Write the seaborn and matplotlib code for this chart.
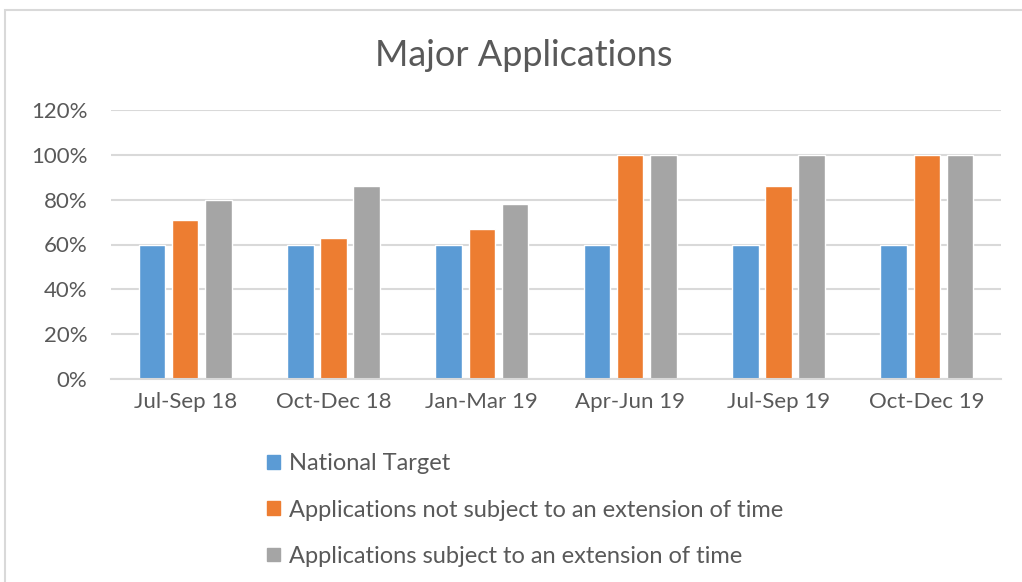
import pandas as pd
import matplotlib.pyplot as plt
import seaborn as sns
from matplotlib.patches import Rectangle
from matplotlib.ticker import PercentFormatter

# Datos del gráfico
trimestres = ["Jul-Sep 18", "Oct-Dec 18", "Jan-Mar 19", "Apr-Jun 19", "Jul-Sep 19", "Oct-Dec 19"]
objetivo_nacional = [60, 60, 60, 60, 60, 60]
sin_extension = [71, 63, 67, 100, 86, 100]
con_extension = [80, 86, 78, 100, 100, 100]
series = ["National Target",
          "Applications not subject to an extension of time",
          "Applications subject to an extension of time"]
colores = ["#5b9bd5", "#ed7d31", "#a5a5a5"]

df = pd.DataFrame({
    "Trimestre": trimestres * 3,
    "Serie": [series[0]] * 6 + [series[1]] * 6 + [series[2]] * 6,
    "Valor": objetivo_nacional + sin_extension + con_extension,
})

sns.set_theme(style="white")
plt.rcParams['font.family'] = ['Lato', 'DejaVu Sans']
texto = "#595959"

fig = plt.figure(figsize=(10.22, 5.82), dpi=100)
ax = fig.add_axes([111 / 1022, 1 - 379 / 582, 890 / 1022, 269 / 582])

sns.barplot(data=df, x="Trimestre", y="Valor", hue="Serie", palette=colores,
            width=0.67, gap=0.2, ax=ax, legend=False, saturation=1)

ax.set_ylim(0, 120)
ax.set_xlim(-0.5, 5.5)
ax.set_yticks(range(0, 121, 20))
ax.yaxis.set_major_formatter(PercentFormatter(decimals=0))
ax.grid(axis="y", color="#d9d9d9", linewidth=1.5)
ax.set_axisbelow(True)
for s in ["top", "right", "left"]:
    ax.spines[s].set_visible(False)
ax.spines["bottom"].set_color("#d9d9d9")
ax.spines["bottom"].set_linewidth(1.5)
ax.tick_params(axis="both", colors=texto, labelsize=16, length=0)
ax.tick_params(axis="x", pad=9)
ax.tick_params(axis="y", pad=17)
ax.set_xlabel("")
ax.set_ylabel("")

fig.text(0.512, 1 - 56 / 582, "Major Applications", ha="center", va="center",
         fontsize=26, color=texto)

# Leyenda vertical en la parte inferior
handles = [Rectangle((0, 0), 1, 1, color=c) for c in colores]
fig.legend(handles, series, loc="upper left", bbox_to_anchor=(246 / 1022, 1 - 432 / 582),
           frameon=False, fontsize=17, labelcolor=texto, handlelength=0.52,
           handleheight=0.52, handletextpad=0.42, labelspacing=1.07)

# Borde del área del gráfico
fig.patches.append(Rectangle((5 / 1022, -0.1), 1.2, 1 - 10 / 582 + 0.1,
                             transform=fig.transFigure, fill=False,
                             edgecolor="#d9d9d9", linewidth=1.5, clip_on=False))

fig.savefig("out.png", dpi=100)
plt.close()
